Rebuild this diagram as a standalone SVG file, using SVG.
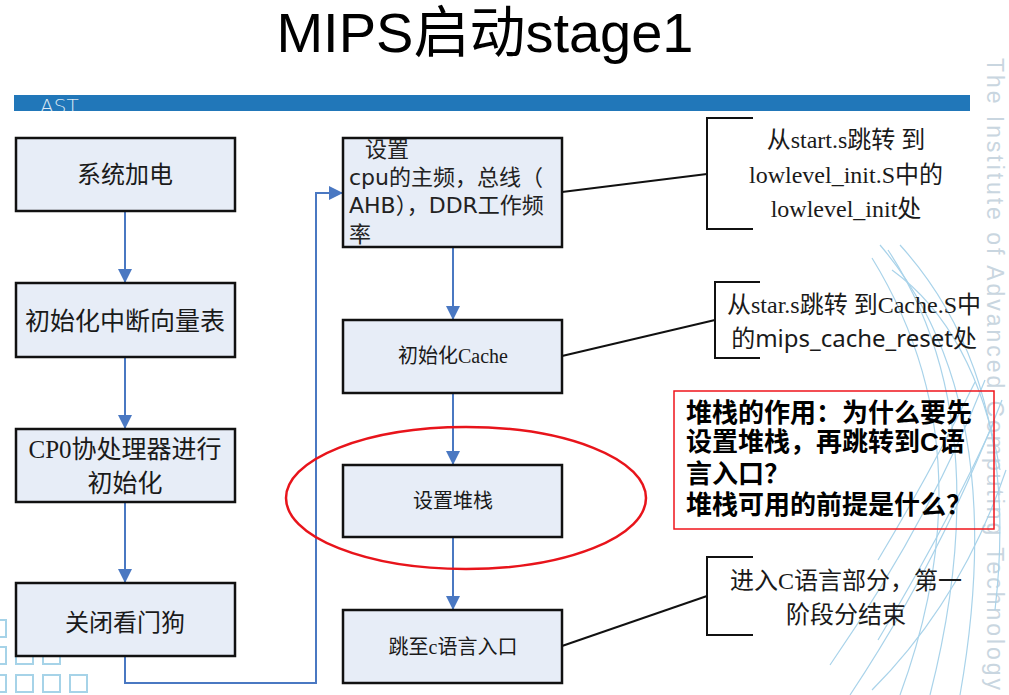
<svg xmlns="http://www.w3.org/2000/svg" width="1009" height="695" viewBox="0 0 1009 695">
<defs>
<style>
.box{fill:#E7EDF7;stroke:#111;stroke-width:2.5}
.flow{fill:none;stroke:#4A78C2;stroke-width:2}
.call{fill:none;stroke:#111;stroke-width:2}
.deco{fill:none;stroke:#A9D3EA;stroke-width:1.2}
.sq{fill:none;stroke:#A6D3E8;stroke-width:2}
.serif{font-family:"Liberation Serif","Noto Sans CJK SC",serif;fill:#1a1a1a}
.sans{font-family:"Noto Sans","Noto Sans CJK SC",sans-serif;fill:#1a1a1a}
.dv{font-family:"DejaVu Sans","Noto Sans CJK SC",sans-serif;fill:#222}
</style>
<marker id="arr" markerUnits="userSpaceOnUse" markerWidth="14" markerHeight="14" viewBox="0 0 14 14" refX="14" refY="7" orient="auto">
<path d="M0,0 L14,7 L0,14 Z" fill="#4A78C2"/>
</marker>
<clipPath id="bannerClip"><rect x="14" y="95" width="956" height="16"/></clipPath>
</defs>
<rect width="1009" height="695" fill="#fff"/>
<g id="background">
<text transform="translate(987,58) rotate(90)" font-family="Liberation Sans,sans-serif" font-size="23" fill="#C9D6E0" textLength="632" lengthAdjust="spacing">The Institute of Advanced Computing Technology</text>
<path class="deco" d="M880 245 Q1012 400 960 695"/>
<path class="deco" d="M888 250 Q1000 420 930 695"/>
<path class="deco" d="M872 258 Q990 450 900 695"/>
<path class="deco" d="M900 245 Q1022 380 995 610"/>
<path class="deco" d="M892 270 Q975 330 1000 470"/>
<path class="deco" d="M850 695 Q940 560 1002 400"/>
<path class="deco" d="M830 665 Q930 520 985 380"/>
<path class="deco" d="M872 690 Q962 600 1006 470"/>
<path class="deco" d="M878 560 Q932 470 975 382"/>
<path class="deco" d="M878 640 Q950 520 995 420"/>
<rect class="sq" x="-11" y="620" width="17" height="17"/>
<rect class="sq" x="-11" y="647" width="17" height="17"/>
<rect class="sq" x="16" y="647" width="17" height="17"/>
<rect class="sq" x="43" y="647" width="17" height="17"/>
<rect class="sq" x="-11" y="675" width="17" height="17"/>
<rect class="sq" x="16" y="675" width="17" height="17"/>
<rect class="sq" x="43" y="675" width="17" height="17"/>
<rect class="sq" x="70" y="675" width="17" height="17"/>
</g>
<g id="title">
<text x="485" y="52" font-family="Liberation Sans,'Noto Sans CJK SC',sans-serif" font-size="56" text-anchor="middle" fill="#000">MIPS启动stage1</text>
</g>
<g id="banner">
<rect x="14" y="95" width="956" height="16" fill="#2177B9"/>
<text x="40" y="113" clip-path="url(#bannerClip)" font-family="DejaVu Sans,sans-serif" font-weight="200" font-size="20" fill="#fff" fill-opacity="0.85">AST</text>
</g>
<g id="connectors">
<line class="flow" x1="125" y1="211" x2="125" y2="283" marker-end="url(#arr)"/>
<line class="flow" x1="125" y1="357" x2="125" y2="429" marker-end="url(#arr)"/>
<line class="flow" x1="125" y1="502" x2="125" y2="583" marker-end="url(#arr)"/>
<polyline class="flow" points="125,656 125,683 316,683 316,193 343,193" marker-end="url(#arr)"/>
<line class="flow" x1="453" y1="247" x2="453" y2="320" marker-end="url(#arr)"/>
<line class="flow" x1="453" y1="393" x2="453" y2="465" marker-end="url(#arr)"/>
<line class="flow" x1="453" y1="537" x2="453" y2="610" marker-end="url(#arr)"/>
<line class="call" x1="562" y1="192" x2="707" y2="174"/>
<line class="call" x1="562" y1="356" x2="715" y2="320"/>
<line class="call" x1="562" y1="646" x2="707" y2="596"/>
</g>
<g id="n1"><rect class="box" x="16" y="138" width="219" height="73"/><text class="serif" x="125" y="183" font-size="24" text-anchor="middle">系统加电</text></g>
<g id="n2"><rect class="box" x="16" y="283" width="219" height="74"/><text class="serif" x="125" y="330" font-size="25" text-anchor="middle">初始化中断向量表</text></g>
<g id="n3"><rect class="box" x="16" y="429" width="219" height="73"/><text class="serif" x="125" y="458" font-size="25" text-anchor="middle">CP0协处理器进行</text><text class="serif" x="125" y="492" font-size="25" text-anchor="middle">初始化</text></g>
<g id="n4"><rect class="box" x="16" y="583" width="219" height="73"/><text class="serif" x="125" y="631" font-size="24" text-anchor="middle">关闭看门狗</text></g>
<g id="m1"><rect class="box" x="343" y="138" width="219" height="109"/>
<text class="dv" font-size="22"><tspan x="365" y="157">设置</tspan><tspan x="349" y="185">cpu的主频，总线（</tspan><tspan x="349" y="213">AHB），DDR工作频</tspan><tspan x="349" y="242">率</tspan></text></g>
<g id="m2"><rect class="box" x="343" y="320" width="219" height="73"/><text class="serif" x="453" y="363" font-size="20" text-anchor="middle">初始化Cache</text></g>
<g id="m3"><rect class="box" x="343" y="465" width="219" height="72"/><text class="serif" x="453" y="508" font-size="20" text-anchor="middle">设置堆栈</text></g>
<g id="m4"><rect class="box" x="343" y="610" width="219" height="73"/><text class="serif" x="453" y="654" font-size="20" text-anchor="middle">跳至c语言入口</text></g>
<g id="highlight"><ellipse cx="466" cy="498" rx="180" ry="71" fill="none" stroke="#E8141B" stroke-width="2.5"/></g>
<g id="c1"><polyline class="call" points="753,118 707,118 707,229 753,229"/>
<text class="serif" font-size="24" text-anchor="middle"><tspan x="846" y="148">从start.s跳转 到</tspan><tspan x="846" y="183">lowlevel_init.S中的</tspan><tspan x="846" y="217">lowlevel_init处</tspan></text></g>
<g id="c2"><polyline class="call" points="760,282 715,282 715,358 760,358"/>
<text class="serif" x="854" y="313" font-size="24" text-anchor="middle">从star.s跳转 到Cache.S中</text>
<text x="854" y="347" font-size="24" text-anchor="middle"><tspan class="serif">的</tspan><tspan class="sans">mips_cache_reset</tspan><tspan class="serif">处</tspan></text></g>
<g id="note"><rect x="674" y="391" width="320" height="138" fill="none" stroke="#F0141B" stroke-width="1.5"/>
<text font-family="Liberation Sans,'Noto Sans CJK SC',sans-serif" font-weight="bold" font-size="26" fill="#000"><tspan x="686" y="422">堆栈的作用：为什么要先</tspan><tspan x="686" y="451">设置堆栈，再跳转到C语</tspan><tspan x="686" y="483">言入口？</tspan><tspan x="686" y="514">堆栈可用的前提是什么？</tspan></text></g>
<g id="c3"><polyline class="call" points="753,557 707,557 707,635 753,635"/>
<text class="serif" font-size="24" text-anchor="middle"><tspan x="846" y="589">进入C语言部分，第一</tspan><tspan x="846" y="623">阶段分结束</tspan></text></g>
</svg>
